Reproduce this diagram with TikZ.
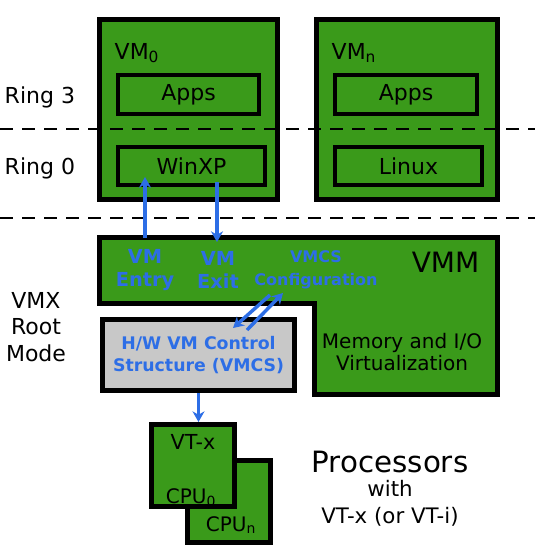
\documentclass[tikz,border=0pt]{standalone}
\usepackage{fontspec}
\setmainfont{DejaVu Sans}
\usepackage{tikz}
\usetikzlibrary{arrows.meta}
\definecolor{vmgreen}{RGB}{58,154,26}
\definecolor{vmblue}{RGB}{45,110,230}
\definecolor{vmgray}{RGB}{200,200,200}

\begin{document}
\begin{tikzpicture}[x=0.75pt,y=-0.75pt,
  box/.style={draw=black,fill=vmgreen,line width=3.75pt,inner sep=0pt},
  inbox/.style={draw=black,line width=3pt,inner sep=0pt,font=\fontsize{16.5}{19}\selectfont},
  flow/.style={-{Stealth[length=8pt,width=9pt]},vmblue,line width=2.6pt},
  blue/.style={text=vmblue,font=\bfseries\fontsize{14.5}{17}\selectfont,align=center},
  side/.style={font=\fontsize{16.5}{20}\selectfont,align=center}]
\useasboundingbox (0,0) rectangle (535,553);

% guest VMs
\node[box,minimum width=133.5pt,minimum height=135pt] (vm0) at (188.5,109.5) {};
\node[box,minimum width=135.75pt,minimum height=135pt] (vmn) at (407,109.5) {};
\node[anchor=base west,font=\fontsize{16.5}{18}\selectfont] (vm0lbl) at (110,59) {VM\textsubscript{0}};
\node[anchor=base west,font=\fontsize{16.5}{18}\selectfont] (vmnlbl) at (327,59) {VM\textsubscript{n}};
\node[inbox,minimum width=105.75pt,minimum height=29.25pt] (apps0) at (188.5,94.5) {Apps};
\node[inbox,minimum width=110.25pt,minimum height=28.5pt] (winxp) at (191.5,166) {WinXP};
\node[inbox,minimum width=106.5pt,minimum height=29.25pt] (appsn) at (406,94.5) {Apps};
\node[inbox,minimum width=110.25pt,minimum height=28.5pt] (linux) at (408.5,166) {Linux};

% rings
\coordinate (r3a) at (0,129);
\coordinate (r3b) at (535,129);
\coordinate (r0a) at (0,218);
\coordinate (r0b) at (535,218);
\draw[dash pattern=on 10pt off 6.5pt,line width=2.2pt] (r3a) -- (r3b);
\draw[dash pattern=on 10pt off 6.5pt,line width=2.2pt] (r0a) -- (r0b);
\node[side,anchor=west] (ring3) at (0,97) {Ring 3};
\node[side,anchor=west] (ring0) at (0,168) {Ring 0};
\node[side] (vmx) at (36,327) {VMX\\Root\\Mode};

% VMM
\draw[fill=vmgreen,line width=3.75pt] (99.5,237.5) -- (497.5,237.5) -- (497.5,394.5)
  -- (314.5,394.5) -- (314.5,303.5) -- (99.5,303.5) -- cycle;
\node[anchor=base east,font=\fontsize{21}{24}\selectfont] (vmm) at (484,272) {VMM};
\node[align=center,font=\fontsize{15}{16}\selectfont] (memio) at (402,352) {Memory and I/O\\Virtualization};
\node[blue] (entry) at (145,270) {VM\\Entry};
\node[blue] (exit) at (218,270) {VM\\Exit};
\node[blue,font=\bfseries\fontsize{12}{17}\selectfont] (config) at (316,270) {VMCS\\Configuration};

% VMCS
\node[box,fill=vmgray,minimum width=144pt,minimum height=53.25pt,
  blue,font=\bfseries\fontsize{13}{16.5}\selectfont] (vmcs) at (198.5,355) {H/W VM Control\\Structure (VMCS)};

% processors
\node[box,minimum width=62.25pt,minimum height=61.5pt] (cpun) at (229,501.5) {};
\node[box,minimum width=62.25pt,minimum height=61.5pt] (cpu0) at (193,465.5) {};
\node[font=\fontsize{15.5}{18}\selectfont] (vtx) at (193,442) {VT-x};
\node[anchor=base,font=\fontsize{15}{18}\selectfont] (cpu0lbl) at (191,503) {CPU\textsubscript{0}};
\node[anchor=base,font=\fontsize{15}{18}\selectfont] (cpunlbl) at (231,531) {CPU\textsubscript{n}};
\node[font=\fontsize{22}{26}\selectfont] (proc) at (390,462) {Processors};
\node[font=\fontsize{16}{19}\selectfont] (with) at (390,488) {with};
\node[font=\fontsize{16}{19}\selectfont] (vti) at (390,517) {VT-x (or VT-i)};

% transitions
\coordinate (entrybase) at (145,238);
\coordinate (entrytip) at (145,177);
\coordinate (exitbase) at (217,182);
\coordinate (exittip) at (217,242);
\coordinate (cfga) at (270,295);
\coordinate (cfgb) at (233,328);
\coordinate (cfgc) at (247,330);
\coordinate (cfgd) at (283,293);
\draw[flow] (entrybase) -- (entrytip);
\draw[flow] (exitbase) -- (exittip);
\draw[flow] (cfga) -- (cfgb);
\draw[flow] (cfgc) -- (cfgd);
\draw[flow] (vmcs.south) -- (vmcs.south |- cpu0.north);
\end{tikzpicture}
\end{document}
